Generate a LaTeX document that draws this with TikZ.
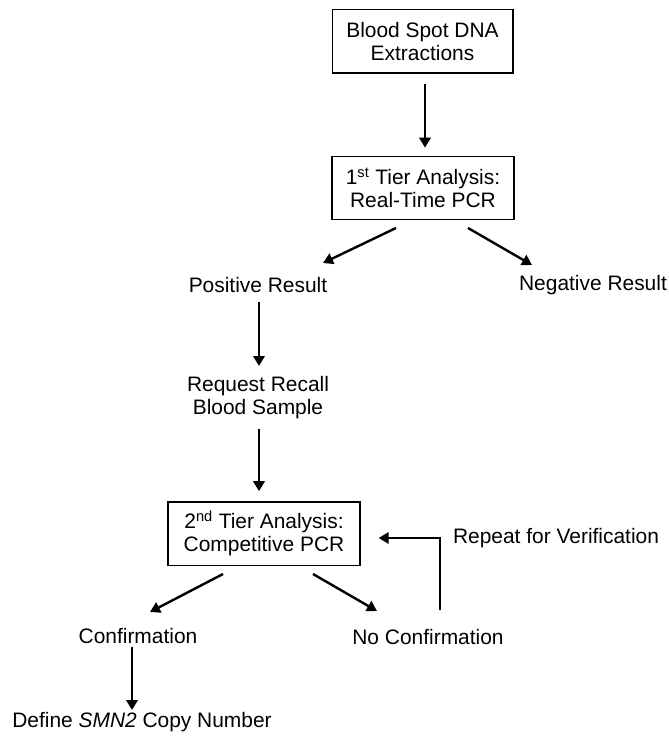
\documentclass[tikz,border=0pt]{standalone}
\usepackage{fontspec}
\setmainfont{Liberation Sans}
\usetikzlibrary{arrows.meta}
\begin{document}
\begin{tikzpicture}[x=0.75pt,y=-0.75pt,
  lbl/.style={font=\fontsize{15.7pt}{17.3pt}\selectfont, align=center, inner sep=0pt},
  boxnode/.style={lbl, draw, line width=1pt, minimum height=47.5pt},
  arr/.style={line width=1.8pt, -{Triangle[length=7.5pt,width=8.5pt]}}]
\useasboundingbox (0,0) rectangle (668,741);
\node[boxnode, minimum width=135.5pt] (b1) at (422.5,41.5) {Blood Spot DNA\\Extractions};
\node[boxnode, minimum width=136.5pt] (b2) at (423,188) {1\textsuperscript{st} Tier Analysis:\\Real-Time PCR};
\node[lbl] (pos) at (258,285) {Positive Result};
\node[lbl] (neg) at (593,285) {Negative Result};
\node[lbl] (req) at (258,398) {Request Recall\\Blood Sample};
\node[boxnode, minimum width=144pt] (b3) at (264,533.5) {2\textsuperscript{nd} Tier Analysis:\\Competitive PCR};
\node[lbl] (conf) at (138,636) {Confirmation};
\node[lbl] (noconf) at (428,637) {No Confirmation};
\node[lbl] (rep) at (556,538) {Repeat for Verification};
\node[lbl] (def) at (142,722) {Define \textit{SMN2} Copy Number};

\draw[arr] ([shift={(2.5,10)}]b1.south) -- ([shift={(2,-8)}]b2.north);
\draw[arr] ([shift={(-27,40)}]b2.center) -- ([shift={(65,-22)}]pos.center);
\draw[arr] ([shift={(45,40)}]b2.center) -- ([shift={(-61,-20)}]neg.center);
\draw[arr] ([shift={(1,17)}]pos.center) -- ([shift={(1,-32)}]req.center);
\draw[arr] ([shift={(1,31)}]req.center) -- ([shift={(-5,-10)}]b3.north);
\draw[arr] ([shift={(-41,40.5)}]b3.center) -- ([shift={(12,-24)}]conf.center);
\draw[arr] ([shift={(49,40.5)}]b3.center) -- ([shift={(-51,-26)}]noconf.center);
\draw[arr] ([shift={(12,-27)}]noconf.center) |- ([shift={(18,4.5)}]b3.east);
\draw[arr] ([shift={(-6,11)}]conf.center) -- ([shift={(-10,-12)}]def.center);
\end{tikzpicture}
\end{document}
